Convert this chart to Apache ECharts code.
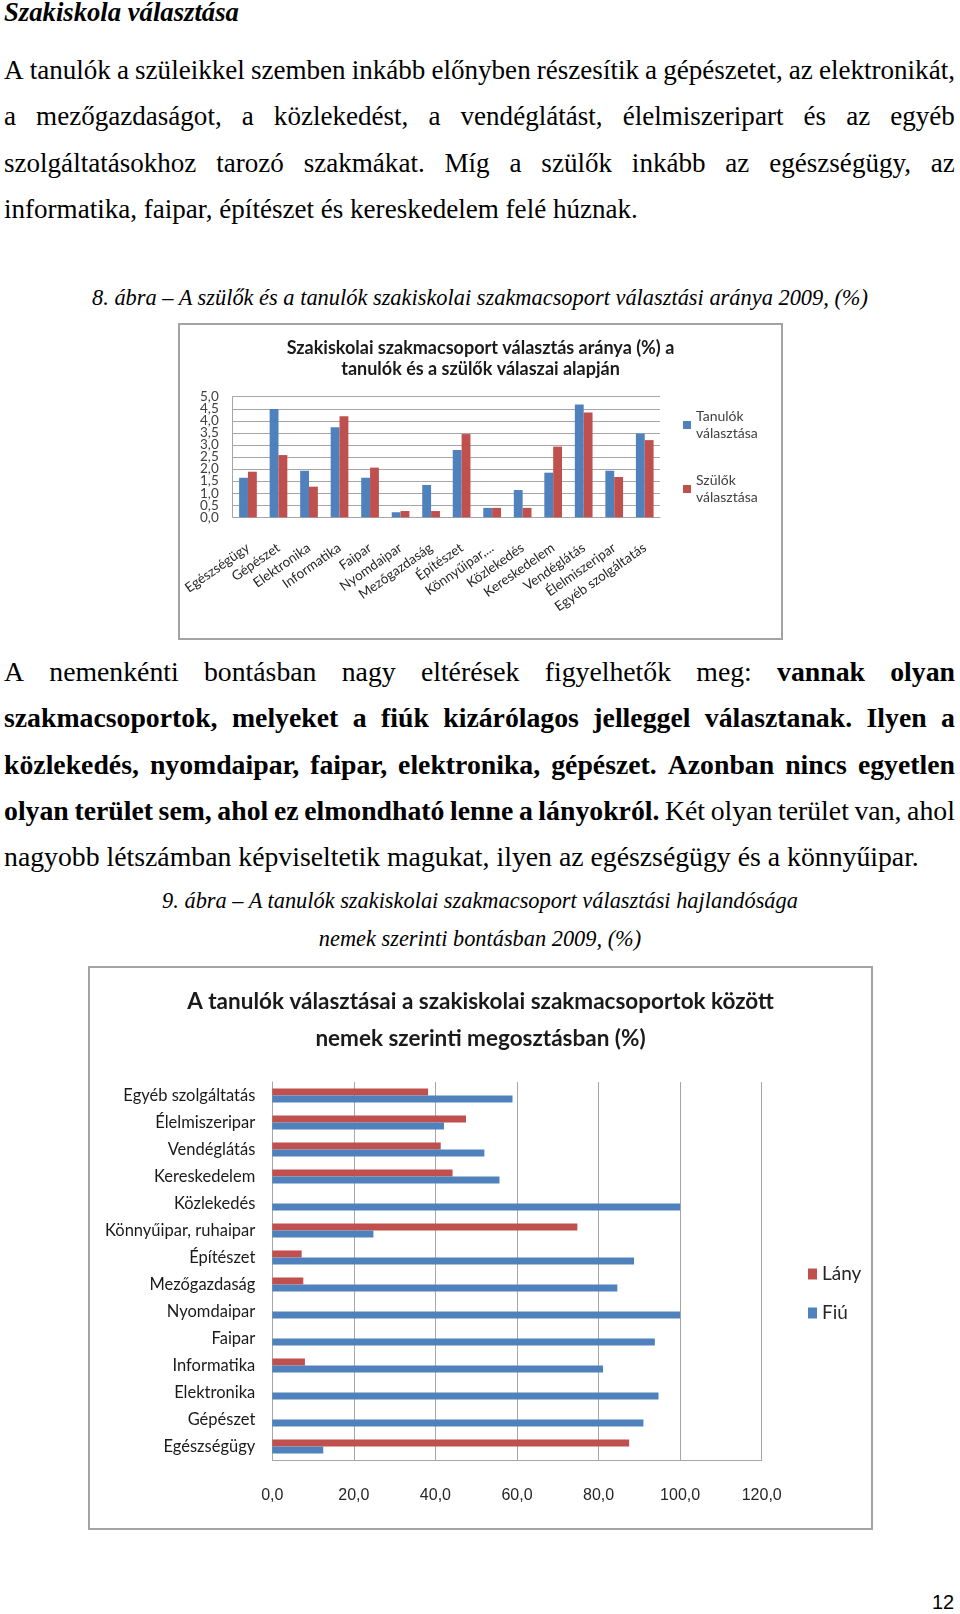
<!DOCTYPE html>
<html>
<head>
<meta charset="utf-8">
<script src="https://cdn.jsdelivr.net/npm/echarts@6/dist/echarts.min.js"></script>
<style>
  html, body { margin:0; padding:0; background:#fff; }
  #page { position:relative; width:960px; height:1614px; overflow:hidden; background:#fff; color:#000; }
  .ln { position:absolute; left:4px; width:951px; font-family:"Liberation Serif","Tinos","Times New Roman",serif; white-space:nowrap; line-height:30px; height:30px; }
  .just { display:flex; justify-content:space-between; }
  .b { font-weight:bold; }
  .cap { position:absolute; left:0; width:960px; text-align:center; font-family:"Liberation Serif","Tinos","Times New Roman",serif; font-style:italic; white-space:nowrap; line-height:28px; height:28px; }
  .box { position:absolute; border:2px solid #a3a3a3; box-sizing:border-box; background:#fff; }
  .chart { width:100%; height:100%; }
</style>
</head>
<body>
<div id="page">
  <div id="title" class="ln" style="top:-3px;font-weight:bold;font-style:italic;">Szakiskola választása</div>
  <div id="p1"></div>
  <div id="cap1" class="cap" style="top:284px;">8. ábra – A szülők és a tanulók szakiskolai szakmacsoport választási aránya 2009, (%)</div>
  <div class="box" style="left:178px;top:323px;width:605px;height:317px;"><div id="c1" class="chart"></div></div>
  <div id="p2"></div>
  <div id="cap2a" class="cap" style="top:887px;">9. ábra – A tanulók szakiskolai szakmacsoport választási hajlandósága</div>
  <div id="cap2b" class="cap" style="top:925px;">nemek szerinti bontásban 2009, (%)</div>
  <div class="box" style="left:88px;top:966px;width:785px;height:564px;"><div id="c2" class="chart"></div></div>
  <div id="pnum" style="position:absolute;left:932px;top:1590px;font-family:'Liberation Sans',sans-serif;font-size:20px;line-height:24px;">12</div>
</div>
<script>
// ---------- DATA ----------
const categories = ['Egészségügy','Gépészet','Elektronika','Informatika','Faipar','Nyomdaipar','Mezőgazdaság','Építészet','Könnyűipar, ruhaipar','Közlekedés','Kereskedelem','Vendéglátás','Élelmiszeripar','Egyéb szolgáltatás'];
const tanulok = [1.64, 4.49, 1.93, 3.73, 1.64, 0.21, 1.34, 2.79, 0.39, 1.13, 1.85, 4.68, 1.93, 3.47];
const szulok  = [1.89, 2.58, 1.27, 4.19, 2.06, 0.26, 0.26, 3.45, 0.39, 0.39, 2.93, 4.34, 1.67, 3.20];
const lany = [87.5, 0, 0, 8.0, 0, 0, 7.6, 7.2, 74.8, 0, 44.2, 41.3, 47.5, 38.2];
const fiu  = [12.5, 91.0, 94.7, 81.1, 93.8, 100, 84.6, 88.7, 24.8, 100, 55.7, 52.0, 42.1, 58.9];
const yTicks1 = ['0,0','0,5','1,0','1,5','2,0','2,5','3,0','3,5','4,0','4,5','5,0'];
const xTicks2 = ['0,0','20,0','40,0','60,0','80,0','100,0','120,0'];

// ---------- TEXT ----------
const para1 = [
  {j:true, segs:[['A tanulók a szüleikkel szemben inkább előnyben részesítik a gépészetet, az elektronikát,',0]]},
  {j:true, segs:[['a mezőgazdaságot, a közlekedést, a vendéglátást, élelmiszeripart és az egyéb',0]]},
  {j:true, segs:[['szolgáltatásokhoz tarozó szakmákat. Míg a szülők inkább az egészségügy, az',0]]},
  {j:false, segs:[['informatika, faipar, építészet és kereskedelem felé húznak.',0]]}
];
const para2 = [
  {j:true, segs:[['A nemenkénti bontásban nagy eltérések figyelhetők meg:',0],['vannak olyan',1]]},
  {j:true, segs:[['szakmacsoportok, melyeket a fiúk kizárólagos jelleggel választanak. Ilyen a',1]]},
  {j:true, segs:[['közlekedés, nyomdaipar, faipar, elektronika, gépészet. Azonban nincs egyetlen',1]]},
  {j:true, segs:[['olyan terület sem, ahol ez elmondható lenne a lányokról.',1],['Két olyan terület van, ahol',0]]},
  {j:false, segs:[['nagyobb létszámban képviseltetik magukat, ilyen az egészségügy és a könnyűipar.',0]]}
];
function measure(text, font) {
  const c = measure.c || (measure.c = document.createElement('canvas').getContext('2d'));
  c.font = font; return c.measureText(text).width;
}
function fitSize(text, target, style) {
  const w = measure(text, style + ' 100px "Liberation Serif", Tinos, "Times New Roman", serif');
  return 100 * target / w;
}
function buildPara(container, lines, tops, lastTarget) {
  const lastText = lines[lines.length-1].segs.map(s=>s[0]).join(' ');
  const fs = fitSize(lastText, lastTarget, '');
  const root = document.getElementById(container);
  lines.forEach((ln, i) => {
    const d = document.createElement('div');
    d.className = 'ln' + (ln.j ? ' just' : '');
    d.style.top = (tops[i] - 15) + 'px';
    d.style.fontSize = fs.toFixed(2) + 'px';
    ln.segs.forEach((s) => {
      s[0].split(' ').forEach((w) => {
        const sp = document.createElement('span');
        if (s[1]) sp.className = 'b';
        sp.textContent = w + (ln.j ? '' : ' ');
        d.appendChild(sp);
      });
    });
    root.appendChild(d);
  });
}
buildPara('p1', para1, [70, 116, 163, 209], 634);
buildPara('p2', para2, [672, 718, 765, 811, 857], 915);
document.getElementById('title').style.fontSize = fitSize('Szakiskola választása', 235, 'italic bold').toFixed(2)+'px';
document.getElementById('cap1').style.fontSize = fitSize('8. ábra – A szülők és a tanulók szakiskolai szakmacsoport választási aránya 2009, (%)', 777, 'italic').toFixed(2)+'px';
const fsc2 = fitSize('9. ábra – A tanulók szakiskolai szakmacsoport választási hajlandósága', 637, 'italic');
document.getElementById('cap2a').style.fontSize = fsc2.toFixed(2)+'px';
document.getElementById('cap2b').style.fontSize = fsc2.toFixed(2)+'px';

// ---------- CHART 1 ----------
const BLUE = '#4F81BD', RED = '#C0504D';
const f1 = 'Lato, "Open Sans", sans-serif';
const yLabelStyle = { margin:14, fontFamily:f1, fontSize:13.5, color:'#404040',
  showMinLabel:true, showMaxLabel:true, hideOverlap:false };
const c1 = echarts.init(document.getElementById('c1'));
c1.setOption({
  animation:false,
  title:{ text:'Szakiskolai szakmacsoport választás aránya (%) a\ntanulók és a szülők válaszai alapján', left:'center', top:8,
    textStyle:{ fontFamily:f1, fontSize:18, fontWeight:'bold', color:'#1a1a1a', lineHeight:21 } },
  legend:{ orient:'vertical', left:503, top:74.5, padding:0, itemWidth:8, itemHeight:8, itemGap:13,
    icon:'rect', data:['Tanulók\nválasztása','Szülők\nválasztása'],
    textStyle:{ fontFamily:f1, fontSize:14, color:'#404040', lineHeight:17, padding:[17,0,0,0] } },
  grid:{ left:52.3, top:71.7, width:427.7, height:120.6 },
  xAxis:{ type:'category', data:categories,
    axisLine:{ lineStyle:{ color:'#a6a6a6' } }, axisTick:{ show:false },
    axisLabel:{ interval:0, rotate:35, margin:29, fontFamily:f1, fontSize:13.5, color:'#262626',
      formatter: v => v.indexOf(',')>=0 ? v.split(',')[0] + ',...' : v } },
  yAxis:[
    { type:'value', min:0, max:5, interval:0.5,
      axisLine:{ show:true, lineStyle:{ color:'#a6a6a6' } },
      splitLine:{ lineStyle:{ color:'#a6a6a6' } },
      axisLabel:Object.assign({}, yLabelStyle, {
        formatter: (v) => { const i = Math.round(v*2); return i % 2 === 0 ? yTicks1[i] : ''; } }) },
    { type:'value', min:0, max:5, interval:0.5, position:'left',
      axisLine:{ show:false }, axisTick:{ show:false }, splitLine:{ show:false },
      axisLabel:Object.assign({}, yLabelStyle, {
        formatter: (v) => { const i = Math.round(v*2); return i % 2 === 1 ? yTicks1[i] : ''; } }) }
  ],
  series:[
    { name:'Tanulók\nválasztása', type:'bar', data:tanulok, itemStyle:{ color:BLUE }, barGap:'0%', barCategoryGap:'42%' },
    { name:'Szülők\nválasztása', type:'bar', data:szulok, itemStyle:{ color:RED }, barGap:'0%', barCategoryGap:'42%' }
  ]
});

// ---------- CHART 2 ----------
const f2 = 'Lato, sans-serif';
const c2 = echarts.init(document.getElementById('c2'));
c2.setOption({
  animation:false,
  title:{ text:'A tanulók választásai a szakiskolai szakmacsoportok között\nnemek szerinti megosztásban (%)', left:'center', top:10.5,
    textStyle:{ fontFamily:f2, fontSize:22.5, fontWeight:'bold', color:'#1a1a1a', lineHeight:37 } },
  legend:{ orient:'vertical', left:718, top:295, padding:0, itemWidth:9, itemHeight:11, itemGap:17,
    icon:'rect', data:['Lány','Fiú'],
    textStyle:{ fontFamily:f2, fontSize:19, color:'#262626', lineHeight:22 } },
  grid:{ left:182.3, top:114, width:489.4, height:378 },
  xAxis:{ type:'value', min:0, max:120, interval:20,
    axisLine:{ show:true, lineStyle:{ color:'#a6a6a6' } }, axisTick:{ show:false },
    splitLine:{ lineStyle:{ color:'#a6a6a6' } },
    axisLabel:{ margin:28, fontFamily:'"Liberation Sans", sans-serif', fontSize:16, color:'#262626',
      formatter: v => xTicks2[Math.round(v/20)] } },
  yAxis:{ type:'category', data:categories,
    axisLine:{ lineStyle:{ color:'#a6a6a6' } }, axisTick:{ show:false },
    axisLabel:{ interval:0, margin:17, fontFamily:f2, fontSize:16.5, color:'#1a1a1a' } },
  series:[
    { name:'Lány', type:'bar', data:lany, itemStyle:{ color:RED }, barGap:'0%', barCategoryGap:'48%' },
    { name:'Fiú', type:'bar', data:fiu, itemStyle:{ color:BLUE }, barGap:'0%', barCategoryGap:'48%' }
  ]
});
</script>
</body>
</html>
